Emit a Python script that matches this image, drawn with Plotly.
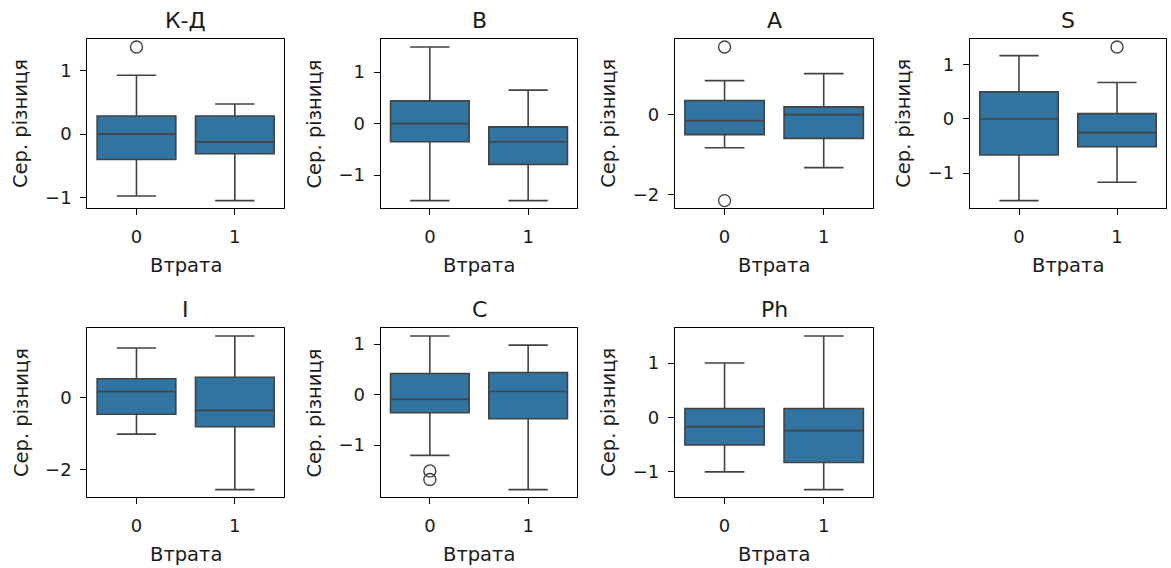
import plotly.graph_objects as go

W, H = 1171, 568

# ---- data ----
titles = ["К-Д", "B", "A", "S", "I", "C", "Ph"]
groups = [0, 1]
group_labels = ["0", "1"]

q1_g0 = [-0.40, -0.352, -0.51, -0.668, -0.46, -0.359, -0.513]
med_g0 = [0.0, 0.0, -0.16, 0.0, 0.177, -0.094, -0.173]
q3_g0 = [0.286, 0.443, 0.343, 0.50, 0.535, 0.418, 0.16]
lo_g0 = [-0.975, -1.497, -0.84, -1.51, -1.014, -1.203, -1.01]
hi_g0 = [0.93, 1.49, 0.84, 1.17, 1.40, 1.16, 1.0]

q1_g1 = [-0.308, -0.793, -0.605, -0.514, -0.81, -0.478, -0.835]
med_g1 = [-0.122, -0.352, -0.01, -0.254, -0.35, 0.06, -0.247]
q3_g1 = [0.286, -0.064, 0.184, 0.099, 0.58, 0.438, 0.16]
lo_g1 = [-1.048, -1.497, -1.335, -1.17, -2.57, -1.88, -1.337]
hi_g1 = [0.476, 0.652, 1.015, 0.674, 1.735, 0.98, 1.50]

out_g0 = [[1.375], [], [1.68, -2.16], [], [], [-1.51, -1.68], []]
out_g1 = [[], [], [], [1.33], [], [], []]

ytick_vals = [[-1, 0, 1], [-1, 0, 1], [-2, 0], [-1, 0, 1], [-2, 0], [-1, 0, 1], [-1, 0, 1]]
ytick_text = [["−1", "0", "1"], ["−1", "0", "1"], ["−2", "0"], ["−1", "0", "1"],
              ["−2", "0"], ["−1", "0", "1"], ["−1", "0", "1"]]

x_label = "Втрата"
y_label = "Сер. різниця"

# ---- layout geometry (pixels) ----
cols_px = [(87.3, 284.0), (380.7, 577.3), (675.0, 873.3), (970.0, 1166.0)]
rows_px = [(39.3, 208.3), (328.3, 497.3)]

FILL = "#3274a1"
LINE = "#424242"
FONT = "DejaVu Sans"
TXT = "#1a1a1a"

fig = go.Figure()
annotations = []
layout_axes = {}

for i, name in enumerate(titles):
    r, c = divmod(i, 4)
    x0, x1 = cols_px[c]
    y0, y1 = rows_px[r]
    xa = "xaxis" if i == 0 else f"xaxis{i+1}"
    ya = "yaxis" if i == 0 else f"yaxis{i+1}"
    xr = "x" if i == 0 else f"x{i+1}"
    yr = "y" if i == 0 else f"y{i+1}"

    stats = [
        (q1_g0[i], med_g0[i], q3_g0[i], lo_g0[i], hi_g0[i], out_g0[i]),
        (q1_g1[i], med_g1[i], q3_g1[i], lo_g1[i], hi_g1[i], out_g1[i]),
    ]
    all_vals = []
    for g, (q1, md, q3, lo, hi, outs) in zip(groups, stats):
        fig.add_trace(go.Box(
            x=[g], q1=[q1], median=[md], q3=[q3], lowerfence=[lo], upperfence=[hi],
            width=0.8, whiskerwidth=0.5, fillcolor=FILL,
            line=dict(color=LINE, width=1.6), boxpoints=False,
            xaxis=xr, yaxis=yr, showlegend=False,
        ))
        if outs:
            fig.add_trace(go.Scatter(
                x=[g] * len(outs), y=outs, mode="markers",
                marker=dict(symbol="circle-open", size=12, color=LINE, line=dict(width=1.4, color=LINE)),
                xaxis=xr, yaxis=yr, showlegend=False,
            ))
        all_vals += [lo, hi] + outs
    vmin, vmax = min(all_vals), max(all_vals)
    pad = 0.05 * (vmax - vmin)

    layout_axes[xa] = dict(
        domain=[x0 / W, x1 / W], anchor=yr, range=[-0.5, 1.5],
        tickmode="array", tickvals=groups, ticktext=group_labels,
        showgrid=False, zeroline=False, showline=True, mirror=True,
        linecolor="black", linewidth=1.2, ticks="outside", ticklen=6,
        tickcolor="black", tickwidth=1.2, ticklabelstandoff=6,
        tickfont=dict(family=FONT, size=18, color=TXT),
    )
    layout_axes[ya] = dict(
        domain=[1 - y1 / H, 1 - y0 / H], anchor=xr, range=[vmin - pad, vmax + pad],
        tickmode="array", tickvals=ytick_vals[i], ticktext=ytick_text[i],
        showgrid=False, zeroline=False, showline=True, mirror=True,
        linecolor="black", linewidth=1.2, ticks="outside", ticklen=6,
        tickcolor="black", tickwidth=1.2, ticklabelstandoff=5,
        tickfont=dict(family=FONT, size=18, color=TXT),
    )

    cx = (x0 + x1) / 2
    annotations.append(dict(
        text=name, x=cx / W, y=1 - (y0 - 19) / H, xref="paper", yref="paper",
        xanchor="center", yanchor="middle", showarrow=False,
        font=dict(family=FONT, size=22, color=TXT),
    ))
    annotations.append(dict(
        text=x_label, x=cx / W, y=1 - (y1 + 57) / H, xref="paper", yref="paper",
        xanchor="center", yanchor="middle", showarrow=False,
        font=dict(family=FONT, size=19.5, color=TXT),
    ))
    annotations.append(dict(
        text=y_label, x=(x0 - 66) / W, y=1 - (y0 + y1) / 2 / H, xref="paper", yref="paper",
        xanchor="center", yanchor="middle", textangle=-90, showarrow=False,
        font=dict(family=FONT, size=19.5, color=TXT),
    ))

fig.update_layout(
    width=W, height=H, margin=dict(l=0, r=0, t=0, b=0),
    paper_bgcolor="white", plot_bgcolor="white",
    annotations=annotations, **layout_axes,
)

fig.write_html("out.html")
